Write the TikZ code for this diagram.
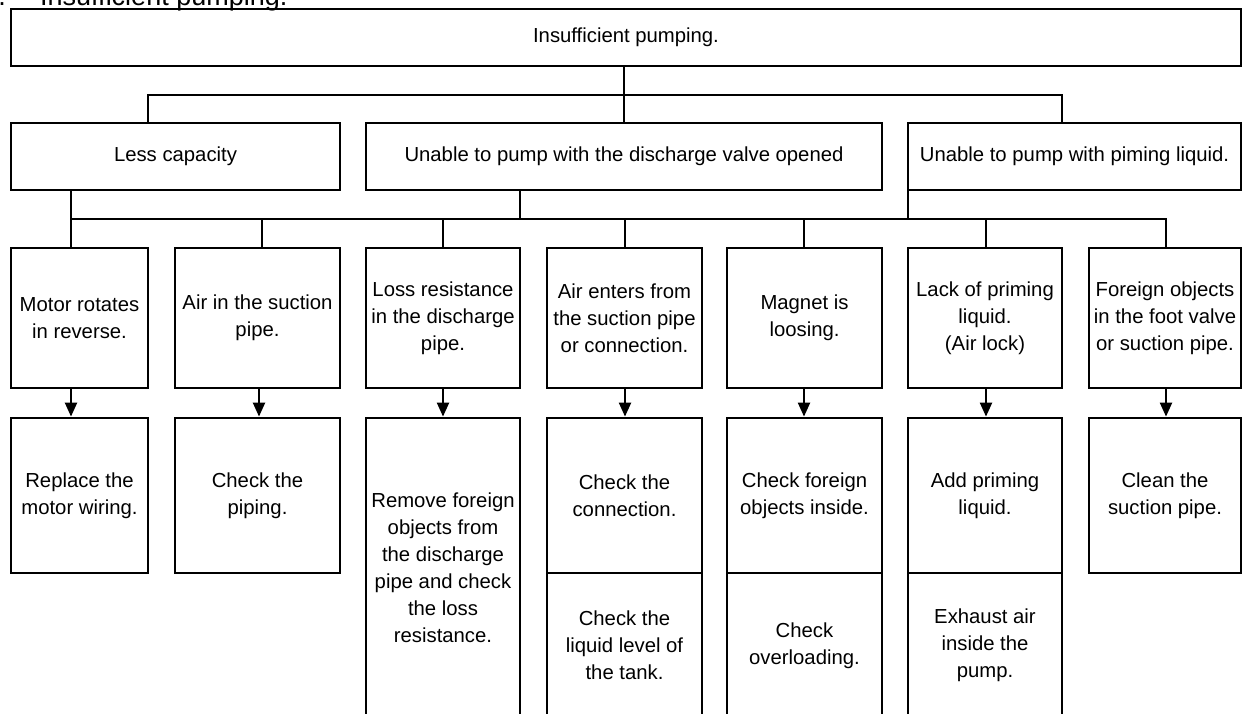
\documentclass[tikz,border=0pt]{standalone}
\usepackage{fontspec}
\setmainfont{Liberation Sans}
\usetikzlibrary{arrows.meta}
\tikzset{
  bx/.style={draw, line width=2.8pt, inner sep=0pt, align=center, font=\fontsize{20.3}{27}\selectfont},
  ln/.style={line width=2.8pt},
  arr/.style={line width=2.2pt, -{Triangle[width=12pt,length=14pt]}},
  ttl/.style={inner sep=0pt, font=\fontsize{27}{32}\selectfont},
}
\newcommand\mybox[6]{\node[bx, minimum width={(#4-#2)*1pt}, minimum height={(#5-#3)*1pt}] (#1) at ({(#2+#4)/2},{(#3+#5)/2}) {#6};}
\begin{document}
\begin{tikzpicture}[x=1pt,y=-1pt]
\useasboundingbox (0,0) rectangle (1243,713);
% heading (cut off at the top, as in the reference)
\node[ttl, anchor=base east] (num) at (6,5) {1.};
\node[ttl, anchor=base west] (head) at (40,5) {Insufficient pumping.};
% level 1
\mybox{top}{11}{9}{1241}{66}{Insufficient pumping.}
% level 2
\mybox{lc}{11}{123}{340}{190}{Less capacity}
\mybox{mid}{366}{123}{882}{190}{Unable to pump with the discharge valve opened}
\mybox{rt}{908}{123}{1241}{190}{Unable to pump with piming liquid.}
% level 3
\mybox{ra}{11}{248}{148}{388}{Motor rotates\\in reverse.}
\mybox{rb}{175}{248}{340}{388}{Air in the suction\\pipe.}
\mybox{rc}{366}{248}{520}{388}{Loss resistance\\in the discharge\\pipe.}
\mybox{rd}{547}{248}{702}{388}{Air enters from\\the suction pipe\\or connection.}
\mybox{re}{727}{248}{882}{388}{Magnet is\\loosing.}
\mybox{rf}{908}{248}{1062}{388}{Lack of priming\\liquid.\\(Air lock)}
\mybox{rg}{1089}{248}{1241}{388}{Foreign objects\\in the foot valve\\or suction pipe.}
% level 4
\mybox{sa}{11}{418}{148}{573}{Replace the\\motor wiring.}
\mybox{sb}{175}{418}{340}{573}{Check the\\piping.}
\mybox{sc}{366}{418}{520}{718}{Remove foreign\\objects from\\the discharge\\pipe and check\\the loss\\resistance.}
\mybox{sd}{547}{418}{702}{573}{Check the\\connection.}
\mybox{sd2}{547}{573}{702}{718}{Check the\\liquid level of\\the tank.}
\mybox{se}{727}{418}{882}{573}{Check foreign\\objects inside.}
\mybox{se2}{727}{573}{882}{718}{Check\\overloading.}
\mybox{sf}{908}{418}{1062}{573}{Add priming\\liquid.}
\mybox{sf2}{908}{573}{1062}{718}{Exhaust air\\inside the\\pump.}
\mybox{sg}{1089}{418}{1241}{573}{Clean the\\suction pipe.}
% bus 1
\coordinate (j0) at (624,95);
\coordinate (jL) at (148,95);
\coordinate (jR) at (1062,95);
\draw[ln] (top.south -| j0) -- (j0) -- (mid.north -| j0);
\draw[ln] (lc.north -| jL) -- (jL) -- (jR) -- (rt.north -| jR);
% bus 2
\coordinate (k1) at (71,219);
\coordinate (k2) at (262,219);
\coordinate (k3) at (443,219);
\coordinate (k4) at (625,219);
\coordinate (k5) at (804,219);
\coordinate (k6) at (986,219);
\coordinate (k7) at (1166,219);
\coordinate (m2) at (520,219);
\coordinate (r2) at (908,219);
\draw[ln] (lc.south -| k1) -- (k1);
\draw[ln] (mid.south -| m2) -- (m2);
\draw[ln] (rt.south -| r2) -- (r2);
\draw[ln] (ra.north -| k1) -- (k1) -- (k7) -- (rg.north -| k7);
\draw[ln] (k2) -- (rb.north -| k2);
\draw[ln] (k3) -- (rc.north -| k3);
\draw[ln] (k4) -- (rd.north -| k4);
\draw[ln] (k5) -- (re.north -| k5);
\draw[ln] (k6) -- (rf.north -| k6);
% arrows
\coordinate (a2) at (259,400);
\draw[arr] (ra.south -| k1) -- (sa.north -| k1);
\draw[arr] (rb.south -| a2) -- (sb.north -| a2);
\draw[arr] (rc.south -| k3) -- (sc.north -| k3);
\draw[arr] (rd.south -| k4) -- (sd.north -| k4);
\draw[arr] (re.south -| k5) -- (se.north -| k5);
\draw[arr] (rf.south -| k6) -- (sf.north -| k6);
\draw[arr] (rg.south -| k7) -- (sg.north -| k7);
\end{tikzpicture}
\end{document}
